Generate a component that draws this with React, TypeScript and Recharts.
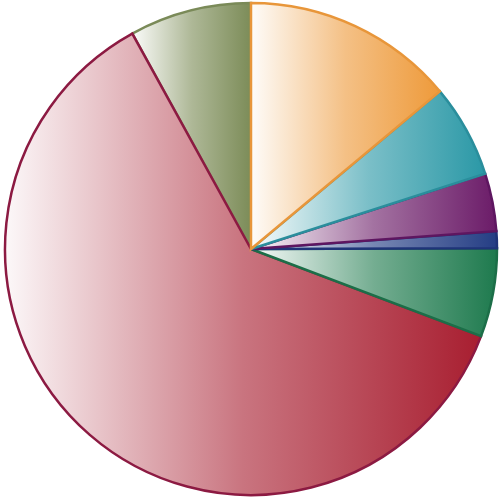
import { PieChart, Pie, Cell } from "recharts";

// slices counter-clockwise from 12 o'clock (so the later ones are painted on top)
const labels = ["Olive", "Red", "Green", "Blue", "Purple", "Teal", "Orange"];
const values = [8.0, 61.1, 5.8, 1.1, 3.8, 6.1, 13.9];
const colors = ["#7C8C58", "#A81E30", "#1E7A4E", "#243D84", "#6B1B68", "#2A98A6", "#EE9A3A"];
const strokes = ["#7A8A58", "#8C1A42", "#1C6E48", "#1F3478", "#5E1660", "#2A8E9C", "#E8963A"];

const data = labels.map((name, i) => ({ name, value: values[i] }));

// blend a hex colour with white, t = share of the colour
const tint = (hex: string, t: number) => {
  const n = parseInt(hex.slice(1), 16);
  const ch = [(n >> 16) & 255, (n >> 8) & 255, n & 255].map((v) => Math.round(255 - t * (255 - v)));
  return `rgb(${ch.join(",")})`;
};

export default function App() {
  return (
    <div style={{ position: "absolute", left: 0, top: 0, width: 500, height: 498, background: "#fff" }}>
      <PieChart width={500} height={498} margin={{ top: 0, right: 0, bottom: 0, left: 0 }}>
        <defs>
          {colors.map((c, i) => (
            <linearGradient key={i} id={`grad-${i}`} x1="0" y1="0" x2="1" y2="0">
              <stop offset="0%" stopColor={tint(c, 0.03)} />
              <stop offset="50%" stopColor={tint(c, 0.62)} />
              <stop offset="100%" stopColor={c} />
            </linearGradient>
          ))}
        </defs>
        <Pie
          data={data}
          dataKey="value"
          cx={251}
          cy={249}
          outerRadius={246}
          startAngle={90}
          endAngle={450}
          stroke="none"
          isAnimationActive={false}
        >
          {data.map((_, i) => (
            <Cell key={i} fill={`url(#grad-${i})`} stroke={strokes[i]} strokeWidth={2.5} />
          ))}
        </Pie>
      </PieChart>
    </div>
  );
}
